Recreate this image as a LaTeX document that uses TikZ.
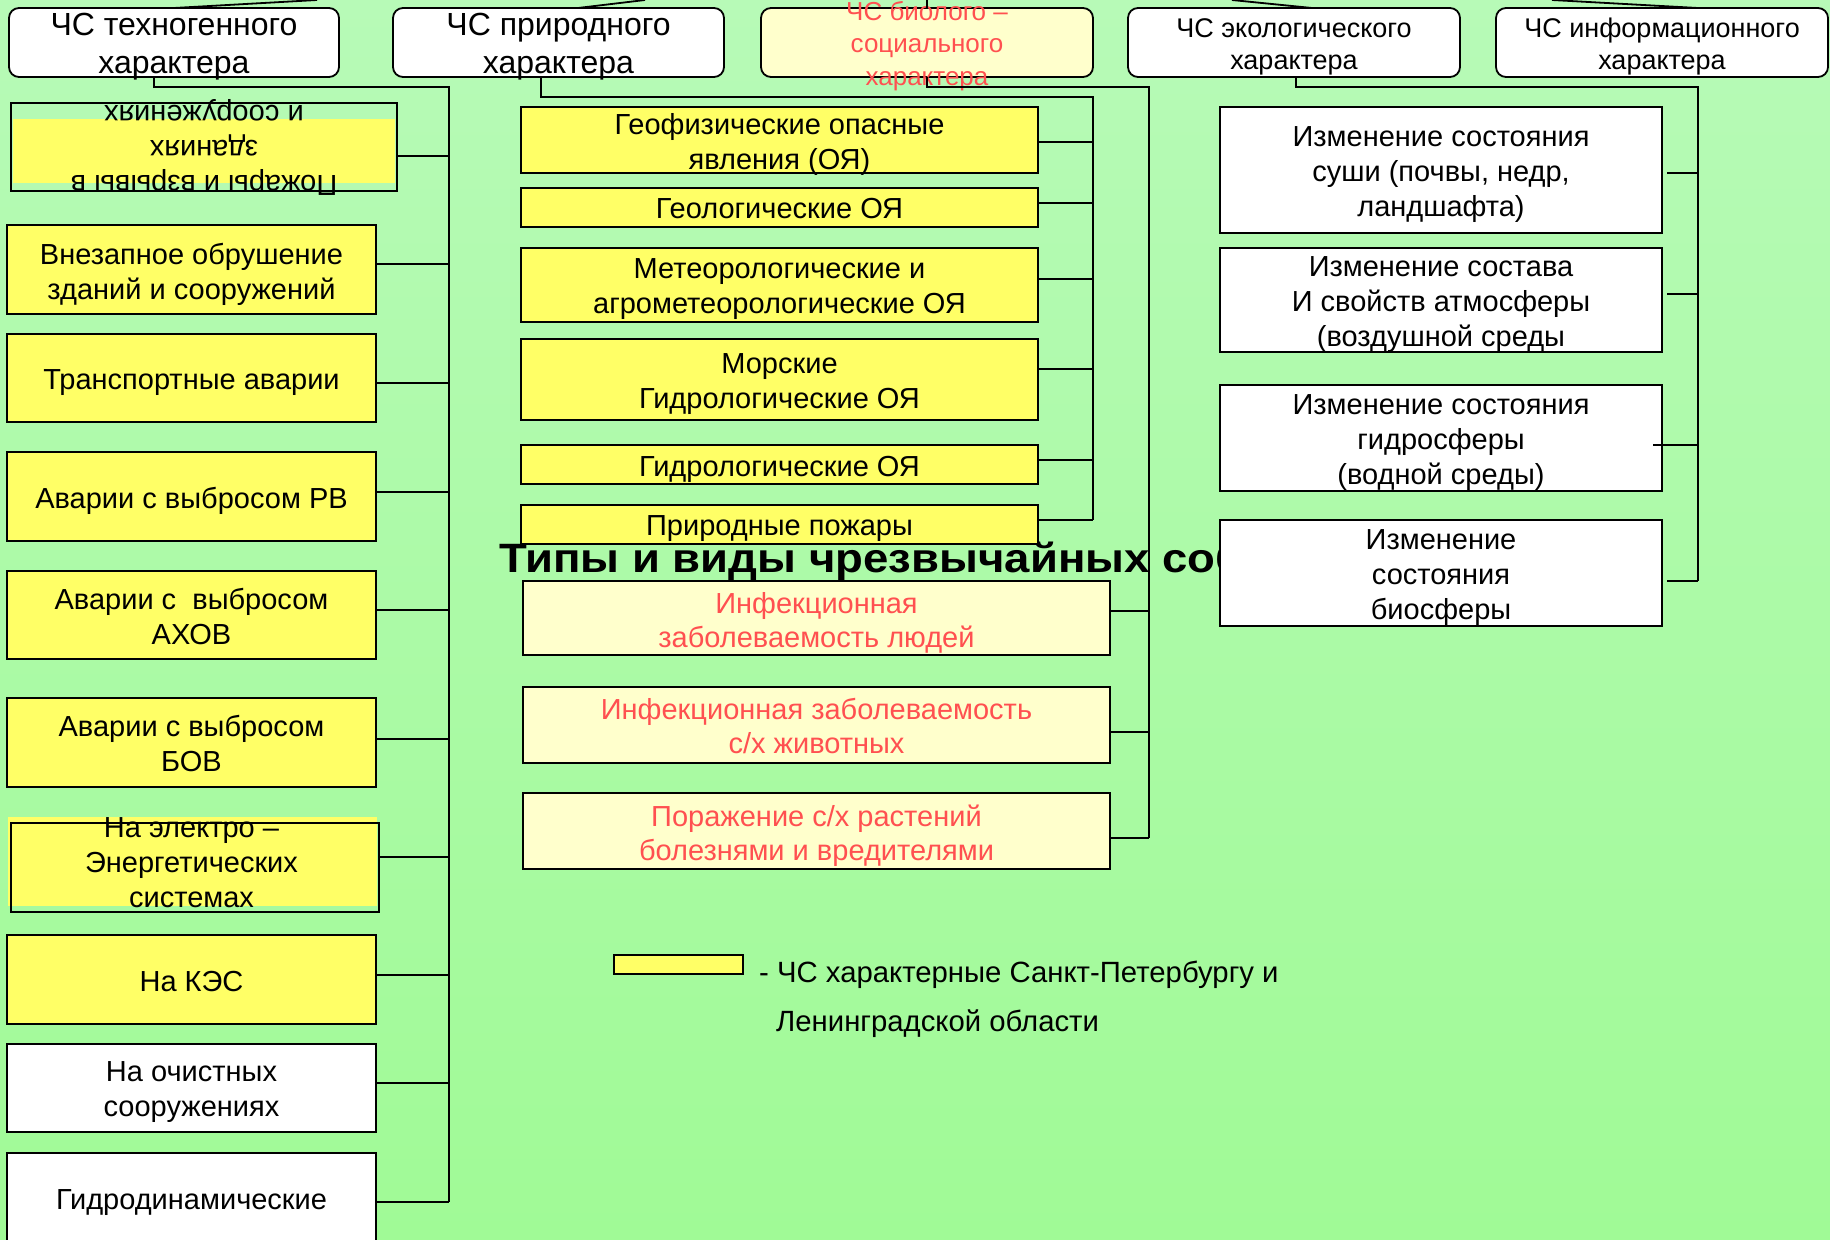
\documentclass[tikz,border=0pt]{standalone}
\usepackage{fontspec}
\setmainfont{Liberation Sans}
\definecolor{bgtop}{RGB}{183,250,183}
\definecolor{bgmid}{RGB}{242,255,242}
\definecolor{bgbot}{RGB}{160,250,150}
\definecolor{boxyellow}{RGB}{255,255,102}
\definecolor{paleyellow}{RGB}{255,255,204}
\definecolor{redtext}{RGB}{255,80,80}
\newcommand\setfs[2]{\fontsize{#1}{#2}\selectfont}
\tikzset{
  conn/.style={draw=black, line width=1.8pt},
  boxline/.style={draw=black, line width=1.8pt, inner sep=0pt, outer sep=0pt},
  topbox/.style={boxline, rounded corners=10pt, fill=white, minimum height=69pt},
  ybox/.style={boxline, fill=boxyellow},
  wbox/.style={boxline, fill=white},
  pbox/.style={boxline, fill=paleyellow},
  txt/.style={align=center, inner sep=0pt, font=\setfs{29}{35}},
  ltxt/.style={txt, yshift=-4.5pt},
  htxt/.style={txt, yshift=-1pt},
  toptxt/.style={align=center, inner sep=0pt, yshift=-4.5pt, font=\setfs{32}{38}},
  smalltxt/.style={align=center, inner sep=0pt, yshift=-4pt, font=\setfs{27}{32}},
  redtxt/.style={align=center, inner sep=0pt, yshift=-4.5pt, text=redtext, font=\setfs{29}{34}},
  legtxt/.style={anchor=west, inner sep=0pt, font=\setfs{29.3}{34}},
}
\begin{document}
\begin{tikzpicture}[x=1pt,y=-1pt]
\useasboundingbox (0,0) rectangle (1830,1239);
\shade[top color=bgtop, middle color=bgmid, bottom color=bgbot] (0,0) rectangle (1830,1239);

% title (partly hidden by the right column)
\begin{scope}[shift={(499,572)}, xscale=1.11]
\node[anchor=base west, inner sep=0pt, transform shape, font=\bfseries\setfs{41}{48}] (T) at (0,0) {Типы и виды чрезвычайных соб};
\end{scope}

% ---------- top row ----------
\node[topbox, minimum width=330pt, label={[toptxt]center:{ЧС техногенного\\характера}}] (B1) at (174,42.5) {};
\node[topbox, minimum width=331pt, label={[toptxt]center:{ЧС природного\\характера}}] (B2) at (558.5,42.5) {};
\node[topbox, minimum width=332pt, fill=paleyellow] (B3) at (927,42.5) {};
\node[align=center, inner sep=0pt, text=redtext, font=\setfs{26}{32.5}] (B3t) at (927,46) {ЧС биолого –\\социального\\характера};
\node[topbox, minimum width=332pt, label={[smalltxt]center:{ЧС экологического\\характера}}] (B4) at (1294,42.5) {};
\node[topbox, minimum width=332pt, label={[smalltxt]center:{ЧС информационного\\характера}}] (B5) at (1662,42.5) {};

\coordinate (r1) at (317,0);
\coordinate (r2) at (645,0);
\coordinate (r3) at (927,0);
\coordinate (r4) at (1232,0);
\coordinate (r5) at (1552,0);
\draw[conn] (B1.north) -- (r1);
\draw[conn] ([xshift=19.5pt]B2.north) -- (r2);
\draw[conn] (B3.north) -- (r3);
\draw[conn] ([xshift=18pt]B4.north) -- (r4);
\draw[conn] ([xshift=36pt]B5.north) -- (r5);

% ---------- left column ----------
\fill[boxyellow] (13,119) rectangle (395,183);
\node[boxline, minimum width=386pt, minimum height=88pt,
  label={[txt, rotate=180]center:{Пожары и взрывы в\\зданиях\\и сооружениях}}] (L1) at (204,147) {};
\node[ybox, minimum width=369pt, minimum height=89pt, label={[ltxt]center:{Внезапное обрушение\\зданий и сооружений}}] (L2) at (191.5,269.5) {};
\node[ybox, minimum width=369pt, minimum height=88pt, label={[ltxt]center:{Транспортные аварии}}] (L3) at (191.5,378) {};
\node[ybox, minimum width=369pt, minimum height=89pt, label={[ltxt]center:{Аварии с выбросом РВ}}] (L4) at (191.5,496.5) {};
\node[ybox, minimum width=369pt, minimum height=88pt, label={[htxt]center:{Аварии с\ \ выбросом\\АХОВ}}] (L5) at (191.5,615) {};
\node[ybox, minimum width=369pt, minimum height=89pt, label={[htxt]center:{Аварии с выбросом\\БОВ}}] (L6) at (191.5,742.5) {};
\fill[boxyellow] (8,817) rectangle (377,906);
\node[boxline, minimum width=368pt, minimum height=89pt] (L7) at (195,867.5) {};
\node[txt] (L7t) at (191.5,862.5) {На электро –\\Энергетических\\системах};
\node[ybox, minimum width=369pt, minimum height=89pt, label={[txt, yshift=-2pt]center:{На КЭС}}] (L8) at (191.5,979.5) {};
\node[wbox, minimum width=369pt, minimum height=88pt, label={[ltxt]center:{На очистных\\сооружениях}}] (L9) at (191.5,1088) {};
\node[wbox, minimum width=369pt, minimum height=107pt] (L10) at (191.5,1206.5) {};
\node[txt] (L10t) at (191.5,1203) {Гидродинамические};

% ---------- middle column (natural) ----------
\node[ybox, minimum width=517pt, minimum height=66pt, label={[ltxt]center:{Геофизические опасные\\явления (ОЯ)}}] (M1) at (779.5,140) {};
\node[ybox, minimum width=517pt, minimum height=39pt, label={[htxt]center:{Геологические ОЯ}}] (M2) at (779.5,207.5) {};
\node[ybox, minimum width=517pt, minimum height=74pt, label={[ltxt]center:{Метеорологические и\\агрометеорологические ОЯ}}] (M3) at (779.5,285) {};
\node[ybox, minimum width=517pt, minimum height=81pt, label={[ltxt]center:{Морские\\Гидрологические ОЯ}}] (M4) at (779.5,379.5) {};
\node[ybox, minimum width=517pt, minimum height=39pt, label={[ltxt]center:{Гидрологические ОЯ}}] (M5) at (779.5,464.5) {};
\node[ybox, minimum width=517pt, minimum height=39pt, label={[ltxt]center:{Природные пожары}}] (M6) at (779.5,524.5) {};

% ---------- bio-social column ----------
\node[pbox, minimum width=587pt, minimum height=74pt, label={[redtxt]center:{Инфекционная\\заболеваемость людей}}] (P1) at (816.5,618) {};
\node[pbox, minimum width=587pt, minimum height=76pt, label={[redtxt, yshift=3.5pt]center:{Инфекционная заболеваемость\\с/х животных}}] (P2) at (816.5,725) {};
\node[pbox, minimum width=587pt, minimum height=76pt, label={[redtxt]center:{Поражение с/х растений\\болезнями и вредителями}}] (P3) at (816.5,831) {};

% ---------- right column (ecological) ----------
\node[wbox, minimum width=442pt, minimum height=126pt, label={[ltxt]center:{Изменение состояния\\суши (почвы, недр,\\ландшафта)}}] (R1) at (1441,170) {};
\node[wbox, minimum width=442pt, minimum height=104pt, label={[ltxt]center:{Изменение состава\\И свойств атмосферы\\(воздушной среды}}] (R2) at (1441,300) {};
\node[wbox, minimum width=442pt, minimum height=106pt, label={[ltxt]center:{Изменение состояния\\гидросферы\\(водной среды)}}] (R3) at (1441,438) {};
\node[wbox, minimum width=442pt, minimum height=106pt, label={[ltxt]center:{Изменение\\состояния\\биосферы}}] (R4) at (1441,573) {};

% ---------- connectors ----------
\coordinate (TL0) at (449,87);
\coordinate (TL1) at (449,1202);
\draw[conn] ([xshift=-20pt]B1.south) |- (TL0) -- (TL1);
\draw[conn] ([yshift=-9pt]L1.east) -- ([yshift=-9pt]L1.east -| TL0);
\draw[conn] ([yshift=5.5pt]L2.east) -- ([yshift=5.5pt]L2.east -| TL0);
\draw[conn] ([yshift=-5pt]L3.east) -- ([yshift=-5pt]L3.east -| TL0);
\draw[conn] ([yshift=4.5pt]L4.east) -- ([yshift=4.5pt]L4.east -| TL0);
\draw[conn] ([yshift=5pt]L5.east) -- ([yshift=5pt]L5.east -| TL0);
\draw[conn] ([yshift=3.5pt]L6.east) -- ([yshift=3.5pt]L6.east -| TL0);
\draw[conn] ([yshift=10.5pt]L7.east) -- ([yshift=10.5pt]L7.east -| TL0);
\draw[conn] ([yshift=4.5pt]L8.east) -- ([yshift=4.5pt]L8.east -| TL0);
\draw[conn] ([yshift=5pt]L9.east) -- ([yshift=5pt]L9.east -| TL0);
\draw[conn] ([yshift=4.5pt]L10.east) -- ([yshift=4.5pt]L10.east -| TL0);

\coordinate (TM0) at (1093,97);
\coordinate (TM1) at (1093,520);
\draw[conn] ([xshift=-17.5pt]B2.south) |- (TM0) -- (TM1);
\draw[conn] ([yshift=-2pt]M1.east) -- ([yshift=-2pt]M1.east -| TM0);
\draw[conn] ([yshift=4.5pt]M2.east) -- ([yshift=4.5pt]M2.east -| TM0);
\draw[conn] ([yshift=6pt]M3.east) -- ([yshift=6pt]M3.east -| TM0);
\draw[conn] ([yshift=10.5pt]M4.east) -- ([yshift=10.5pt]M4.east -| TM0);
\draw[conn] ([yshift=4.5pt]M5.east) -- ([yshift=4.5pt]M5.east -| TM0);
\draw[conn] ([yshift=4.5pt]M6.east) -- ([yshift=4.5pt]M6.east -| TM0);

\coordinate (TB0) at (1149,87);
\coordinate (TB1) at (1149,838);
\draw[conn] (B3.south) |- (TB0) -- (TB1);
\draw[conn] ([yshift=7pt]P1.east) -- ([yshift=7pt]P1.east -| TB0);
\draw[conn] ([yshift=-7pt]P2.east) -- ([yshift=-7pt]P2.east -| TB0);
\draw[conn] ([yshift=-7pt]P3.east) -- ([yshift=-7pt]P3.east -| TB0);

\coordinate (TR0) at (1698,87);
\coordinate (TR1) at (1698,581);
\draw[conn] ([xshift=2pt]B4.south) |- (TR0) -- (TR1);
\draw[conn] ([xshift=5pt,yshift=-3pt]R1.east) -- ([yshift=-3pt]R1.east -| TR0);
\draw[conn] ([xshift=5pt,yshift=6pt]R2.east) -- ([yshift=6pt]R2.east -| TR0);
\draw[conn] ([xshift=-9pt,yshift=-7pt]R3.east) -- ([yshift=-7pt]R3.east -| TR0);
\draw[conn] ([xshift=5pt,yshift=-8pt]R4.east) -- ([yshift=-8pt]R4.east -| TR0);

% ---------- legend ----------
\node[ybox, minimum width=129pt, minimum height=19pt] (Lg) at (678.5,964.5) {};
\node[legtxt] (G1) at (759,974.5) {- ЧС характерные Санкт-Петербургу и};
\node[legtxt] (G2) at (776,1024) {Ленинградской области};
\end{tikzpicture}
\end{document}
